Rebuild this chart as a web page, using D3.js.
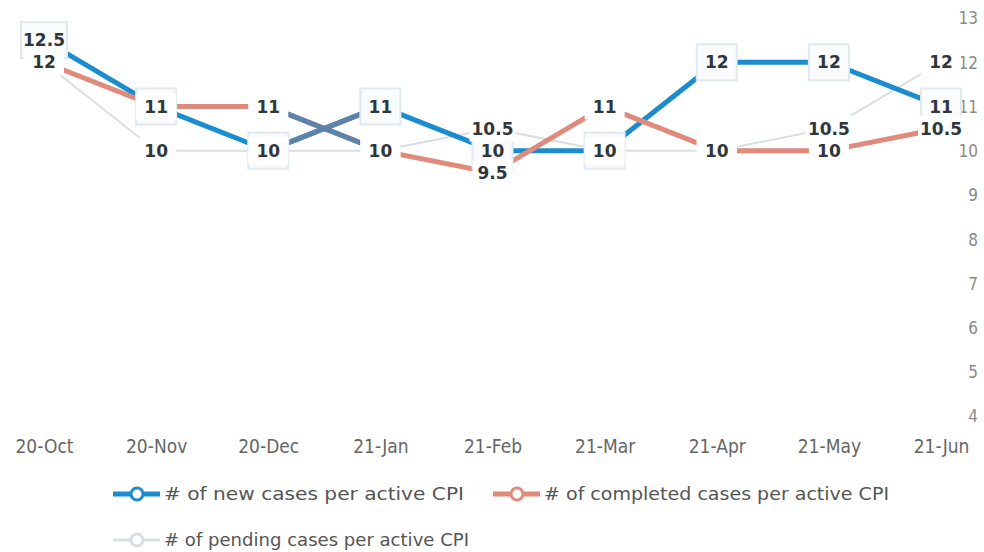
<!DOCTYPE html>
<html>
<head>
<meta charset="utf-8">
<script src="https://cdn.jsdelivr.net/npm/d3@7"></script>
<style>
  body { margin: 0; background: #fff; }
  svg { display: block; }
</style>
</head>
<body>
<div id="drawing-area"></div>
<script>
(function () {
  var months = ['20-Oct', '20-Nov', '20-Dec', '21-Jan', '21-Feb', '21-Mar', '21-Apr', '21-May', '21-Jun'];
  var newCases = [12.5, 11, 10, 11, 10, 10, 12, 12, 11];
  var completedCases = [12, 11, 11, 10, 9.5, 11, 10, 10, 10.5];
  var pendingCases = [12, 10, 10, 10, 10.5, 10, 10, 10.5, 12];
  var yTicks = [4, 5, 6, 7, 8, 9, 10, 11, 12, 13];

  var series = [
    { name: '# of pending cases per active CPI', values: pendingCases, color: '#d9dee5', width: 2, box: false },
    { name: '# of new cases per active CPI', values: newCases, color: '#1b8dcf', width: 5, box: true },
    { name: '# of completed cases per active CPI', values: completedCases, color: '#e08a7c', width: 5, box: false }
  ];

  var width = 984, height = 552;
  var svg = d3.select('#drawing-area').append('svg')
    .attr('width', width)
    .attr('height', height);

  var x = d3.scalePoint().domain(months).range([44, 941]);
  var y = d3.scaleLinear().domain([4, 13]).range([416, 18]);

  var textFont = '"DejaVu Sans Condensed", "DejaVu Sans", sans-serif';

  // right value axis, labels only
  var yAxis = d3.axisRight(y).tickValues(yTicks).tickSize(0).tickPadding(0);
  var yg = svg.append('g').attr('transform', 'translate(978,0)').call(yAxis);
  yg.select('.domain').remove();
  yg.selectAll('text')
    .attr('text-anchor', 'end')
    .attr('dy', '0.35em')
    .style('font-family', textFont)
    .style('font-size', '17px')
    .style('fill', '#8a8a8a');

  // category axis, labels only
  var xAxis = d3.axisBottom(x).tickSize(0).tickPadding(0);
  var xg = svg.append('g').attr('transform', 'translate(0,446)').call(xAxis);
  xg.select('.domain').remove();
  xg.selectAll('text')
    .attr('dy', '0.35em')
    .style('font-family', textFont)
    .style('font-size', '19px')
    .style('fill', '#666');

  var line = d3.line()
    .x(function (d, i) { return x(months[i]); })
    .y(function (d) { return y(d); });

  var lineGroup = svg.append('g').attr('class', 'line-group');
  series.forEach(function (s) {
    lineGroup.append('path')
      .datum(s.values)
      .attr('fill', 'none')
      .attr('stroke', s.color)
      .attr('stroke-width', s.width)
      .attr('stroke-linejoin', 'round')
      .attr('d', line);
  });

  // the Dec-Jan crossing comes out slate blue in the original
  [newCases, completedCases].forEach(function (vals) {
    lineGroup.append('line')
      .attr('x1', x(months[2])).attr('y1', y(vals[2]))
      .attr('x2', x(months[3])).attr('y2', y(vals[3]))
      .attr('stroke', '#5d83ab')
      .attr('stroke-width', 5);
  });

  // data labels: new first, then pending, then completed on top
  var labelOrder = [series[1], series[0], series[2]];
  var labelGroup = svg.append('g').attr('class', 'label-group');
  labelOrder.forEach(function (s) {
    s.values.forEach(function (v, i) {
      var g = labelGroup.append('g')
        .attr('transform', 'translate(' + x(months[i]) + ',' + y(v) + ')');
      var txt = String(v);
      var w = Math.max(40, txt.length * 10 + 6);
      g.append('rect')
        .attr('x', -w / 2).attr('y', s.box ? -18 : -13)
        .attr('width', w).attr('height', s.box ? 36 : 26)
        .attr('fill', s.box ? '#f9fbfd' : '#fff')
        .attr('stroke', s.box ? '#e0e9f2' : 'none')
        .attr('stroke-width', 2);
      g.append('text')
        .attr('text-anchor', 'middle')
        .attr('dy', '0.36em')
        .style('font-family', '"DejaVu Sans", sans-serif')
        .style('font-weight', 'bold')
        .style('font-size', '17px')
        .style('fill', '#2f363c')
        .text(txt);
    });
  });

  // legend
  var legendItems = [
    { s: series[1], x: 113, y: 494, len: 300 },
    { s: series[2], x: 493, y: 494, len: 345 },
    { s: series[0], x: 113, y: 540, len: 305 }
  ];
  var legend = svg.append('g').attr('class', 'legend');
  legendItems.forEach(function (it) {
    var g = legend.append('g').attr('transform', 'translate(' + it.x + ',' + it.y + ')');
    g.append('line')
      .attr('x1', 0).attr('x2', 47)
      .attr('stroke', it.s.color)
      .attr('stroke-width', it.s.width === 2 ? 3 : 5);
    g.append('circle')
      .attr('cx', 24).attr('r', 6)
      .attr('fill', '#fff')
      .attr('stroke', it.s.color)
      .attr('stroke-width', 3);
    g.append('text')
      .attr('x', 51)
      .attr('dy', '0.35em')
      .attr('textLength', it.len)
      .attr('lengthAdjust', 'spacingAndGlyphs')
      .style('font-family', textFont)
      .style('font-size', '18px')
      .style('fill', '#555')
      .text(it.s.name);
  });
})();
</script>
</body>
</html>
